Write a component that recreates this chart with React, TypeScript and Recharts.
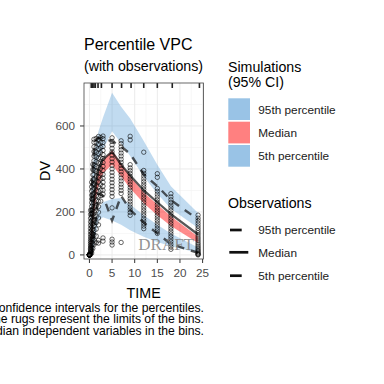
import React from 'react';
import { ComposedChart, Area, Line, Scatter, XAxis, YAxis, CartesianGrid } from 'recharts';

// Bin times (x positions of percentiles)
const binTimes = [0.25, 0.5, 1, 1.5, 2, 3, 5, 7, 9, 12, 15, 18, 24];
// Simulated 95th percentile CI
const sim95Lo = [90, 200, 330, 410, 450, 490, 575, 520, 460, 365, 285, 215, 125];
const sim95Hi = [200, 330, 470, 530, 575, 640, 755, 690, 635, 530, 420, 320, 195];
// Simulated median CI
const sim50Lo = [20, 70, 190, 270, 320, 380, 420, 365, 310, 240, 185, 135, 55];
const sim50Hi = [60, 130, 260, 335, 385, 440, 487, 425, 365, 290, 235, 180, 85];
// Simulated 5th percentile CI
const sim05Lo = [0, 5, 40, 110, 160, 175, 160, 140, 115, 85, 60, 40, 10];
const sim05Hi = [8, 30, 110, 175, 215, 245, 260, 265, 235, 185, 140, 100, 35];
// Observed percentiles
const obs95 = [180, 300, 490, 535, 545, 540, 530, 505, 470, 375, 320, 255, 165];
const obs50 = [30, 120, 260, 340, 400, 445, 480, 420, 370, 300, 245, 190, 95];
const obs05 = [2, 20, 90, 180, 285, 275, 160, 275, 210, 150, 100, 50, 10];

// Bin limits (rugs)
const rugTimes = [0.4, 0.7, 1.0, 1.3, 1.9, 2.65, 5.0, 7.1, 9.2, 12.0, 15.0, 18.3, 24.3];

// Observations (DV per nominal time)
const dvT0 = [0, 0, 0, 0, 0, 0, 0, 0, 0, 0, 0, 0, 1, 1, 2, 3];
const dvT025 = [2, 5, 9, 13, 18, 24, 30, 37, 45, 54, 63, 73, 84, 96, 109, 123, 138, 154, 171, 189, 208];
const dvT05 = [9, 20, 33, 46, 59, 73, 87, 101, 116, 131, 146, 161, 177, 193, 209, 226, 243, 260, 278, 297, 317, 338];
const dvT075 = [30, 52, 75, 98, 121, 144, 167, 190, 212, 235, 258, 281, 304, 327, 350, 373, 397, 421];
const dvT1 = [48, 70, 92, 114, 136, 158, 180, 201, 222, 244, 266, 287, 309, 330, 352, 374, 395, 417, 438, 460, 481, 503, 524, 538];
const dvT15 = [57, 88, 120, 150, 178, 205, 229, 252, 275, 298, 321, 343, 366, 389, 411, 434, 456, 479, 501, 523, 542];
const dvT2 = [55, 68, 140, 172, 199, 225, 249, 272, 295, 318, 340, 362, 384, 406, 428, 450, 472, 494, 515, 536, 551];
const dvT25 = [250, 276, 301, 327, 352, 377, 402, 427, 452, 476, 500, 524, 546];
const dvT3 = [64, 79, 283, 301, 320, 338, 357, 375, 393, 412, 430, 449, 467, 486, 504, 523, 541, 553];
const dvT5 = [46, 60, 73, 219, 272, 288, 304, 320, 336, 352, 368, 384, 400, 416, 432, 448, 464, 480, 496, 512, 528, 545];
const dvT7 = [58, 286, 300, 315, 329, 344, 358, 373, 387, 402, 416, 431, 445, 460, 474, 489, 503, 518, 531];
const dvT9 = [184, 197, 210, 223, 236, 249, 262, 275, 288, 301, 314, 327, 340, 353, 366, 379, 392, 405, 420, 535, 552];
const dvT12 = [122, 134, 146, 158, 170, 183, 195, 207, 219, 231, 244, 256, 268, 280, 292, 305, 317, 329, 341, 354, 367, 380, 393, 478];
const dvT15b = [100, 112, 124, 136, 148, 160, 172, 184, 196, 208, 220, 233, 245, 257, 270, 283, 296, 309, 361, 378];
const dvT18 = [26, 38, 50, 62, 74, 86, 98, 110, 122, 134, 146, 158, 170, 182, 194, 207, 219, 231, 244, 257, 270, 285];
const dvT24 = [0, 2, 5, 9, 14, 20, 26, 33, 40, 48, 56, 65, 74, 83, 93, 103, 113, 124, 135, 147, 159, 171, 185];

const obsTimes = [0, 0.25, 0.5, 0.75, 1, 1.5, 2, 2.5, 3, 5, 7, 9, 12, 15, 18, 24];
const obsColumns = [dvT0, dvT025, dvT05, dvT075, dvT1, dvT15, dvT2, dvT25, dvT3, dvT5, dvT7, dvT9, dvT12, dvT15b, dvT18, dvT24];

const xTicks = [0, 5, 10, 15, 20, 25];
const yTicks = [0, 200, 400, 600];
const xMinor = [2.5, 7.5, 12.5, 17.5, 22.5];
const yMinor = [100, 300, 500, 700];

const bandData = binTimes.map((t, i) => ({
  t,
  upper: [sim95Lo[i], sim95Hi[i]],
  med: [sim50Lo[i], sim50Hi[i]],
  lower: [sim05Lo[i], sim05Hi[i]],
  o95: obs95[i],
  o50: obs50[i],
  o05: obs05[i],
}));

const obsData: { t: number; dv: number }[] = [];
obsTimes.forEach((t, i) => obsColumns[i].forEach((dv) => obsData.push({ t, dv })));

const rugData = rugTimes.map((t) => ({ t, dv: 800 }));

const FONT = '"Liberation Sans", Arial, Helvetica, sans-serif';
const BLUE = '#3388cc';
const RED = '#ff0000';

const Circle = (p: any) => (
  <circle cx={p.cx} cy={p.cy} r={2.2} fill="none" stroke="#000" strokeWidth={0.65} strokeOpacity={0.9} />
);
const Rug = (p: any) => (
  <line x1={p.cx} x2={p.cx} y1={p.cy} y2={p.cy + 5} stroke="#222" strokeWidth={1.6} />
);

const captionLines = [
  'The shaded areas are the 95% confidence intervals for the percentiles.',
  'The rugs represent the limits of the bins.',
  'The x-positions of the percentiles are the median independent variables in the bins.',
];

export default function App() {
  return (
    <div style={{ position: 'absolute', left: 0, top: 0, width: 384, height: 384, fontFamily: FONT, background: '#fff' }}>
      <ComposedChart
        width={384}
        height={384}
        data={bandData}
        margin={{ top: 83, right: 180.5, bottom: 95, left: 0 }}
      >
        <CartesianGrid horizontalValues={yMinor} verticalValues={xMinor} stroke="#f2f2f2" strokeWidth={0.6} />
        <CartesianGrid horizontalValues={yTicks} verticalValues={xTicks} stroke="#ebebeb" strokeWidth={1} />
        <XAxis
          type="number"
          dataKey="t"
          domain={[-1.2, 25.2]}
          ticks={xTicks}
          allowDataOverflow
          axisLine={false}
          tickSize={4}
          tickMargin={5.4}
          height={30}
          tick={{ fill: '#4d4d4d', fontSize: 11.7, fontFamily: FONT }}
          tickLine={{ stroke: '#333' }}
        />
        <YAxis
          type="number"
          domain={[-19, 800]}
          ticks={yTicks}
          allowDataOverflow
          axisLine={false}
          width={84}
          tickSize={4}
          tickMargin={5}
          tick={{ fill: '#4d4d4d', fontSize: 11.7, fontFamily: FONT }}
          tickLine={{ stroke: '#333' }}
        />
        <Area dataKey="upper" type="linear" stroke="none" fill={BLUE} fillOpacity={0.3} isAnimationActive={false} />
        <Area dataKey="med" type="linear" stroke="none" fill={RED} fillOpacity={0.45} isAnimationActive={false} />
        <Area dataKey="lower" type="linear" stroke="none" fill={BLUE} fillOpacity={0.3} isAnimationActive={false} />
        <Scatter data={obsData} dataKey="dv" shape={Circle} isAnimationActive={false} />
        <Line dataKey="o95" type="linear" stroke="#111" strokeOpacity={0.7} strokeWidth={2.4} strokeDasharray="8 7" dot={false} isAnimationActive={false} />
        <Line dataKey="o50" type="linear" stroke="#111" strokeOpacity={0.7} strokeWidth={2.2} dot={false} isAnimationActive={false} />
        <Line dataKey="o05" type="linear" stroke="#111" strokeOpacity={0.7} strokeWidth={2.4} strokeDasharray="8 7" dot={false} isAnimationActive={false} />
        <Scatter data={rugData} dataKey="dv" shape={Rug} isAnimationActive={false} />
      </ComposedChart>
      <svg
        width={384}
        height={384}
        style={{ position: 'absolute', left: 0, top: 0, pointerEvents: 'none', fontFamily: FONT }}
      >
        <rect x={84} y={83} width={119.5} height={176} fill="none" stroke="#444" strokeWidth={0.8} />
        <text x={194} y={250} textAnchor="end" fontFamily='"Liberation Serif", "DejaVu Serif", serif' fontSize={17} fill="#808080" fillOpacity={0.85}>DRAFT</text>
        <text x={84} y={50} fontSize={16} fill="#000">Percentile VPC</text>
        <text x={84} y={70.5} fontSize={14.2} fill="#000">(with observations)</text>
        <text x={143.7} y={298} fontSize={14.3} textAnchor="middle" fill="#000">TIME</text>
        <text transform="translate(50,171) rotate(-90)" fontSize={14.3} textAnchor="middle" fill="#000">DV</text>
        {captionLines.map((s, i) => (
          <text key={i} x={204} y={312 + i * 11.3} fontSize={12.2} textAnchor="end" fill="#000">{s}</text>
        ))}
        <text x={228} y={71.5} fontSize={14.2} fill="#000">Simulations</text>
        <text x={228} y={86.5} fontSize={14.2} fill="#000">(95% CI)</text>
        <rect x={228.3} y={98.3} width={21.7} height={21.7} fill="#99c3e6" />
        <rect x={228.3} y={121.7} width={21.7} height={21.7} fill="#ff8080" />
        <rect x={228.3} y={145} width={21.7} height={21.7} fill="#99c3e6" />
        <text x={258.3} y={114} fontSize={11.8} fill="#1a1a1a">95th percentile</text>
        <text x={258.3} y={137} fontSize={11.8} fill="#1a1a1a">Median</text>
        <text x={258.3} y={160.3} fontSize={11.8} fill="#1a1a1a">5th percentile</text>
        <text x={228} y={208.3} fontSize={14.2} fill="#000">Observations</text>
        <line x1={230} x2={241.7} y1={230} y2={230} stroke="#111" strokeWidth={2.7} />
        <line x1={229.3} x2={248.3} y1={252.3} y2={252.3} stroke="#111" strokeWidth={2.7} />
        <line x1={230} x2={241.7} y1={275.7} y2={275.7} stroke="#111" strokeWidth={2.7} />
        <text x={258.3} y={234} fontSize={11.8} fill="#1a1a1a">95th percentile</text>
        <text x={258.3} y={256.5} fontSize={11.8} fill="#1a1a1a">Median</text>
        <text x={258.3} y={280} fontSize={11.8} fill="#1a1a1a">5th percentile</text>
      </svg>
    </div>
  );
}
